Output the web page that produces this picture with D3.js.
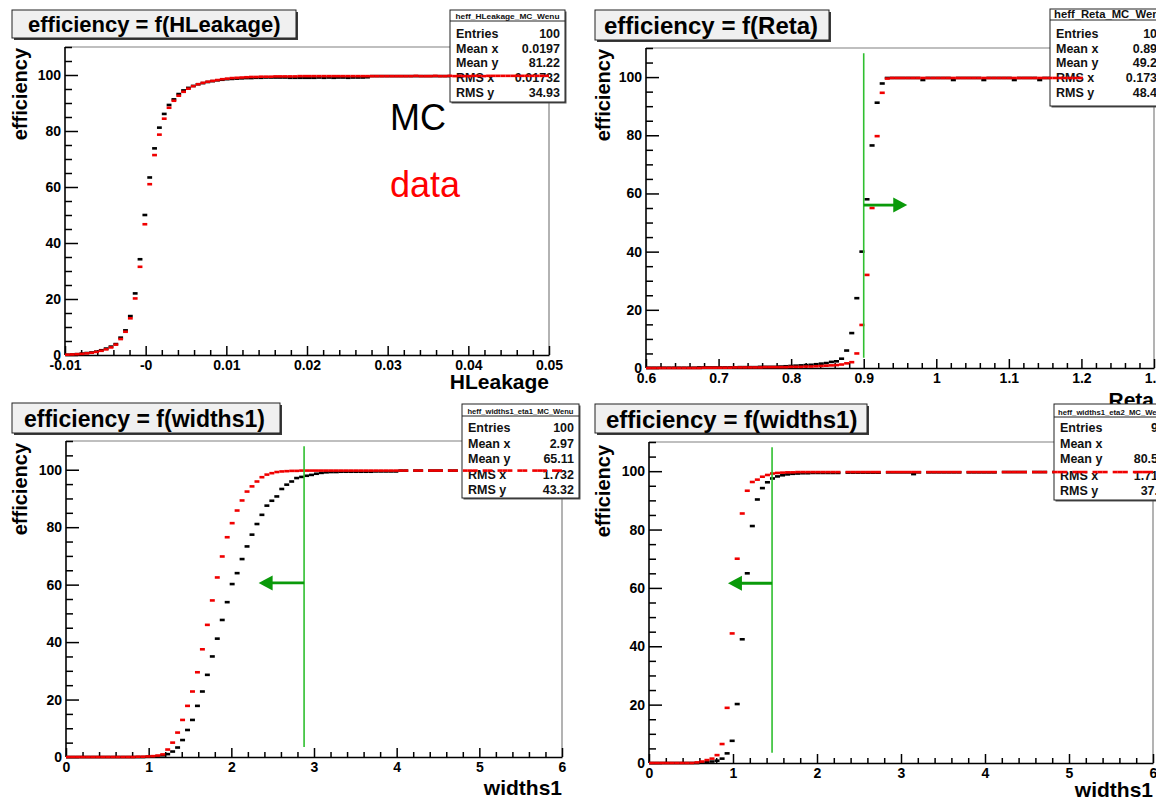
<!DOCTYPE html>
<html><head><meta charset="utf-8">
<script src="https://cdn.jsdelivr.net/npm/d3@7"></script>
<style>body{margin:0;background:#fff} svg{display:block} text{font-family:"Liberation Sans",Arial,Helvetica,sans-serif}</style>
</head><body><svg id="c" width="1156" height="803"></svg>
<script>
// ---------------- data (100 bins per histogram) ----------------
const hleakMC = [0.1,0.2,0.3,0.5,0.7,0.9,1.2,1.7,2.3,3.0,
 3.9,6.2,8.8,13.9,22.0,34.2,50.0,63.4,73.8,81.2,
 86.1,89.3,91.3,93.2,94.5,95.4,96.1,96.7,97.1,97.5,
 97.8,98.1,98.3,98.5,98.6,98.7,98.8,98.9,98.9,99.0,
 99.0,99.1,99.1,99.1,99.1,99.1,99.0,99.0,99.0,99.0,
 99.0,99.0,99.1,99.0,99.1,99.0,99.1,99.1,99.0,99.1,
 99.1,99.1,99.2,99.6,99.6,99.6,99.6,99.6,99.6,99.6,
 99.6,99.6,99.6,99.6,99.6,99.6,99.6,99.6,99.6,99.6,
 99.7,99.6,99.6,99.7,99.6,99.7,99.6,99.7,99.7,99.6,
 99.7,99.7,99.6,99.7,99.7,99.7,99.7,99.7,99.7,99.7];
const hleakData = [0.1,0.2,0.3,0.4,0.6,0.8,1.1,1.5,2.0,2.7,
 3.7,5.7,8.3,13.1,20.2,31.5,46.7,61.0,71.4,78.7,
 84.4,88.3,90.8,92.6,94.0,95.1,96.0,96.7,97.2,97.6,
 97.9,98.2,98.5,98.7,98.9,99.0,99.1,99.2,99.3,99.3,
 99.4,99.4,99.4,99.5,99.5,99.5,99.5,99.5,99.6,99.6,
 99.6,99.6,99.6,99.6,99.6,99.6,99.6,99.6,99.6,99.6,
 99.6,99.6,99.6,99.6,99.6,99.6,99.6,99.6,99.6,99.6,
 99.6,99.6,99.7,99.6,99.6,99.6,99.7,99.6,99.6,99.7,
 99.6,99.7,99.6,99.6,99.7,99.7,99.6,99.7,99.7,99.7,
 99.7,99.7,99.7,99.7,99.7,99.7,99.7,99.7,99.7,99.7];

const retaMC = [0.1,0.1,0.1,0.1,0.1,0.1,0.1,0.1,0.1,0.1,
 0.2,0.2,0.2,0.2,0.2,0.2,0.2,0.2,0.3,0.3,
 0.3,0.3,0.4,0.4,0.4,0.4,0.5,0.6,0.7,0.8,
 0.9,1.0,1.1,1.3,1.5,1.7,2.1,2.3,3.2,6.0,
 12.0,24.0,40.0,58.0,76.5,91.2,97.8,99.7,99.7,99.7,
 99.7,99.7,99.7,99.7,99.0,99.7,99.7,99.7,99.7,99.7,
 99.0,99.7,99.7,99.7,99.7,99.7,99.0,99.7,99.7,99.7,
 99.7,99.7,99.0,99.7,99.7,99.7,99.7,99.0,99.7,99.7,
 99.7,99.7,99.7,99.7,99.7,99.7,null,null,null,null,
 null,null,null,null,null,null,null,null,null,null];
const retaData = [0.0,0.0,0.0,0.0,0.0,0.0,0.0,0.0,0.0,0.0,
 0.0,0.1,0.1,0.1,0.1,0.1,0.1,0.2,0.2,0.2,
 0.2,0.2,0.2,0.3,0.3,0.3,0.3,0.3,0.4,0.4,
 0.4,0.5,0.5,0.6,0.7,0.8,0.9,1.0,1.2,1.6,
 2.0,5.0,14.8,32.0,55.0,79.7,94.6,99.5,99.7,99.7,
 99.7,99.7,99.7,99.7,99.7,99.7,99.7,99.7,99.7,99.7,
 99.7,99.7,99.7,99.7,99.7,99.7,99.7,99.7,99.7,99.7,
 99.7,99.7,99.7,99.7,99.7,99.7,99.7,99.7,99.7,99.7,
 99.7,99.7,99.7,99.7,99.7,99.7,null,null,null,null,
 null,null,null,null,null,null,null,null,null,null];

const widthsEta1MC = [0,0,0,0,0,0,0,0,0,0,
 0,0,0,0,0,0,0.1,0.2,0.3,0.6,
 1.0,1.9,3.3,5.9,9.4,12.9,17.8,22.8,28.6,35.0,
 41.2,47.7,53.9,60.2,64.0,68.9,73.3,77.4,81.1,84.3,
 87.5,89.2,90.7,93.3,94.8,95.9,97.1,97.5,97.9,98.2,
 98.6,98.9,99.1,99.2,99.2,99.3,99.3,99.3,99.3,99.3,
 99.3,99.3,99.4,99.4,99.4,99.4,99.4,99.7,99.7,null,
 99.7,99.7,null,99.7,99.7,99.7,null,99.7,99.7,null,
 99.7,99.7,99.7,null,99.7,99.7,null,99.7,99.7,99.7,
 null,99.7,99.7,null,99.7,99.7,99.7,null,99.7,99.7];
const widthsEta1Data = [0,0,0,0,0,0,0,0,0,0,
 0,0,0,0,0.1,0.1,0.2,0.3,0.5,0.9,
 2.6,5.0,8.5,12.9,17.8,22.8,29.5,37.5,46.0,54.5,
 62.5,69.8,76.5,81.4,85.8,89.3,92.4,94.2,95.9,97.4,
 98.3,98.8,99.2,99.4,99.5,99.6,99.6,99.7,99.7,99.7,
 99.7,99.7,99.7,99.7,99.7,99.7,99.7,99.7,99.7,99.7,
 99.7,99.7,99.7,99.7,99.7,99.7,99.7,99.7,99.7,null,
 99.7,99.7,null,99.7,99.7,99.7,null,99.7,99.7,null,
 99.7,99.7,99.7,null,99.7,99.7,null,99.7,99.7,99.7,
 null,99.7,99.7,null,99.7,99.7,99.7,null,99.7,99.7];

const widthsEta2MC = [0,0,0,0,0,0,0,0,0,0,
 0.1,0.3,0.5,0.8,1.5,3.3,7.6,20.2,42.4,65.0,
 81.2,90.3,94.2,96.2,97.5,98.2,98.6,98.9,99.1,99.2,
 99.3,99.3,99.4,99.4,99.4,99.4,99.4,99.4,null,99.5,
 99.5,99.5,99.5,99.5,99.5,99.5,null,99.6,99.6,99.6,
 99.6,99.6,99.0,99.6,null,99.6,99.6,99.6,99.6,99.6,
 99.6,99.6,null,99.6,99.6,99.6,99.6,99.6,99.6,null,
 99.7,99.7,99.7,99.7,99.7,null,99.7,99.7,99.7,null,
 99.7,99.7,99.7,null,99.7,99.7,99.7,null,99.7,99.7,
 99.7,null,99.7,99.7,99.7,null,99.7,99.7,99.7,99.7];
const widthsEta2Data = [0,0,0,0,0,0,0,0,0,0.2,
 0.5,1.0,1.5,2.7,6.5,18.9,44.4,70.0,85.5,93.3,
 96.3,97.1,98.1,98.7,99.2,99.4,99.5,99.6,99.6,99.7,
 99.7,99.7,99.7,99.7,99.7,99.7,99.7,99.7,null,99.7,
 99.7,99.7,99.7,99.7,99.7,99.7,null,99.7,99.7,99.7,
 99.7,99.7,99.7,99.7,null,99.7,99.7,99.7,99.7,99.7,
 99.7,99.7,null,99.7,99.7,99.7,99.7,99.7,99.7,null,
 99.7,99.7,99.7,99.7,99.7,null,99.7,99.7,99.7,null,
 99.7,99.7,99.7,null,99.7,99.7,99.7,null,99.7,99.7,
 99.7,null,99.7,99.7,99.7,null,99.7,99.7,99.7,99.7];

// tick values and labels
const yTicks = [0,20,40,60,80,100];
const hleakTicks = [-0.01,0,0.01,0.02,0.03,0.04,0.05];
const hleakTickLabels = ["-0.01","-0","0.01","0.02","0.03","0.04","0.05"];
const retaTicks = [0.6,0.7,0.8,0.9,1.0,1.1,1.2,1.3];
const retaTickLabels = ["0.6","0.7","0.8","0.9","1","1.1","1.2","1.3"];
const widthsTicks = [0,1,2,3,4,5,6];
const widthsTickLabels = ["0","1","2","3","4","5","6"];

// stats boxes
const statNames = ["Entries","Mean x","Mean y","RMS x","RMS y"];
const hleakStats = ["100","0.0197","81.22","0.01732","34.93"];
const retaStats = ["100","0.895","49.27","0.1734","48.43"];
const widthsEta1Stats = ["100","2.97","65.11","1.732","43.32"];
const widthsEta2Stats = ["98","3","80.54","1.712","37.1"];

// cut lines: [cut value, arrow tip value, arrow height]
const retaCut = [0.9, 0.96, 56];
const widthsEta1Cut = [2.88, 2.33, 60.6];
const widthsEta2Cut = [1.465, 0.94, 61.6];

// ---------------- drawing ----------------
const svg = d3.select("#c");
const FONT = '"Liberation Sans",Arial,Helvetica,sans-serif';

const panels = [
 {mc:hleakMC, data:hleakData, xDomain:[-0.01,0.05], ticks:hleakTicks, tickLabels:hleakTickLabels, minorStep:0.002,
  left:65,right:549,top:47,bottom:355, xTitle:"HLeakage", xlab:[549,389], ylab:[27,48],
  title:{text:"efficiency = f(HLeakage)", x0:12,y0:10,x1:296,y1:38,size:22,tx:28,ty:32},
  stats:{name:"heff_HLeakage_MC_Wenu", vals:hleakStats, x0:450,y0:10,x1:565,y1:102,hy:21,hsize:8,hlen:104, rows:[38,53,67,82,97], lx:456, vx:560},
  cut:null},
 {mc:retaMC, data:retaData, xDomain:[0.6,1.3], ticks:retaTicks, tickLabels:retaTickLabels, minorStep:0.02,
  left:646,right:1154,top:48,bottom:368, xTitle:"Reta", xlab:[1154,407], ylab:[610,49],
  title:{text:"efficiency = f(Reta)", x0:595,y0:10,x1:829,y1:40,size:24,tx:604,ty:34},
  stats:{name:"heff_Reta_MC_Wenu", vals:retaStats, x0:1050,y0:9,x1:1170,y1:106,hy:20,hsize:10,hlen:112, rows:[38,53,67,82,97], lx:1056, vx:1164},
  cut:retaCut},
 {mc:widthsEta1MC, data:widthsEta1Data, xDomain:[0,6], ticks:widthsTicks, tickLabels:widthsTickLabels, minorStep:0.2,
  left:66,right:562,top:441,bottom:757, xTitle:"widths1", xlab:[562,795], ylab:[27,443],
  title:{text:"efficiency = f(widths1)", x0:12,y0:403,x1:280,y1:433,size:23,tx:24,ty:427},
  stats:{name:"heff_widths1_eta1_MC_Wenu", vals:widthsEta1Stats, x0:462,y0:404,x1:579,y1:498,hy:416,hsize:7,hlen:106, rows:[432,448,463,479,494], lx:468, vx:574},
  cut:widthsEta1Cut},
 {mc:widthsEta2MC, data:widthsEta2Data, xDomain:[0,6], ticks:widthsTicks, tickLabels:widthsTickLabels, minorStep:0.2,
  left:649,right:1153,top:442,bottom:763, xTitle:"widths1", xlab:[1153,797], ylab:[610,445],
  title:{text:"efficiency = f(widths1)", x0:595,y0:404,x1:867,y1:433,size:24,tx:606,ty:428},
  stats:{name:"heff_widths1_eta2_MC_Wenu", vals:widthsEta2Stats, x0:1054,y0:404,x1:1170,y1:500,hy:417,hsize:7,hlen:108, rows:[432,448,463,480,495], lx:1060, vx:1165},
  cut:widthsEta2Cut}
];

function drawBins(g, arr, x, y, x0, w, color){
  const bins = arr.map((v,i)=>({v, a:x0+i*w, b:x0+(i+1)*w})).filter(d=>d.v!==null);
  g.selectAll(null).data(bins).enter().append("line")
    .attr("x1",d=>x(d.a)).attr("x2",d=>x(d.b))
    .attr("y1",d=>y(d.v)).attr("y2",d=>y(d.v))
    .attr("stroke",color).attr("stroke-width",2.6);
}

function drawPanel(p){
  const g = svg.append("g");
  const x = d3.scaleLinear().domain(p.xDomain).range([p.left,p.right]);
  const y = d3.scaleLinear().domain([0,110]).range([p.bottom,p.top]);
  // frame (top/right)
  g.append("line").attr("x1",p.left).attr("x2",p.right).attr("y1",p.top).attr("y2",p.top).attr("stroke","#808080").attr("stroke-width",1.2);
  g.append("line").attr("x1",p.right).attr("x2",p.right).attr("y1",p.top).attr("y2",p.bottom).attr("stroke","#808080").attr("stroke-width",1.2);

  // minor ticks
  const yMinor = d3.range(0,23).map(k=>k*5).filter(v=>v%20!==0);
  const nMinor = Math.round((p.xDomain[1]-p.xDomain[0])/p.minorStep);
  const xMinor = d3.range(0,nMinor+1).map(k=>p.xDomain[0]+k*p.minorStep)
      .filter(v=>!p.ticks.some(t=>Math.abs(t-v)<p.minorStep/4));
  g.append("g").attr("transform",`translate(${p.left},0)`)
    .call(d3.axisLeft(y).tickValues(yMinor).tickSize(-7).tickFormat("").tickSizeOuter(0))
    .call(s=>s.select(".domain").remove());
  g.append("g").attr("transform",`translate(0,${p.bottom})`)
    .call(d3.axisBottom(x).tickValues(xMinor).tickSize(-5).tickFormat("").tickSizeOuter(0))
    .call(s=>s.select(".domain").remove());
  // major axes
  const ya = g.append("g").attr("transform",`translate(${p.left},0)`)
    .call(d3.axisLeft(y).tickValues(yTicks).tickSize(-13).tickPadding(4).tickSizeOuter(0));
  ya.select(".domain").attr("d",`M0,${p.bottom}V${p.top}`);
  const xa = g.append("g").attr("transform",`translate(0,${p.bottom})`)
    .call(d3.axisBottom(x).tickValues(p.ticks).tickSize(-9).tickPadding(5).tickSizeOuter(0)
      .tickFormat((d,i)=>p.tickLabels[i]));
  [ya,xa].forEach(a=>{
    a.select(".domain").attr("stroke","#000").attr("stroke-width",1.6);
    a.selectAll(".tick line").attr("stroke","#000").attr("stroke-width",1.5);
    a.selectAll(".tick text").attr("fill","#000").attr("font-size",14).attr("font-weight","bold").attr("font-family",FONT);
  });
  g.selectAll(".tick line").attr("stroke","#000").attr("stroke-width",1.5);

  const nb = p.mc.length;
  const w = (p.xDomain[1]-p.xDomain[0])/nb;
  // MC (black) first
  drawBins(g, p.mc, x, y, p.xDomain[0], w, "#000");

  // axis titles
  g.append("text").attr("x",p.xlab[0]).attr("y",p.xlab[1]).attr("text-anchor","end")
    .attr("font-size",21).attr("font-weight","bold").attr("fill","#000").text(p.xTitle);
  g.append("text").attr("transform",`translate(${p.ylab[0]},${p.ylab[1]}) rotate(-90)`).attr("text-anchor","end")
    .attr("font-size",20).attr("font-weight","bold").attr("fill","#000").text("efficiency");

  // title box
  const t = p.title;
  g.append("rect").attr("x",t.x0+2).attr("y",t.y0+2).attr("width",t.x1-t.x0).attr("height",t.y1-t.y0).attr("fill","#3a3a3a");
  g.append("rect").attr("x",t.x0).attr("y",t.y0).attr("width",t.x1-t.x0).attr("height",t.y1-t.y0)
    .attr("fill","#f0f0f0").attr("stroke","#222").attr("stroke-width",1);
  g.append("text").attr("x",t.tx).attr("y",t.ty).attr("font-size",t.size).attr("font-weight","bold").attr("fill","#000").text(t.text);

  // stats box
  const s = p.stats;
  g.append("rect").attr("x",s.x0+1.5).attr("y",s.y0+1.5).attr("width",s.x1-s.x0).attr("height",s.y1-s.y0).attr("fill","#555");
  g.append("rect").attr("x",s.x0).attr("y",s.y0).attr("width",s.x1-s.x0).attr("height",s.y1-s.y0)
    .attr("fill","#fff").attr("stroke","#222").attr("stroke-width",1);
  g.append("line").attr("x1",s.x0).attr("x2",s.x1).attr("y1",s.hy).attr("y2",s.hy).attr("stroke","#222").attr("stroke-width",1);
  g.append("text").attr("x",(s.x0+s.x1)/2).attr("y",s.hy-2.5).attr("text-anchor","middle")
    .attr("font-size",s.hsize).attr("font-weight","bold").attr("fill","#111")
    .attr("textLength",s.hlen).attr("lengthAdjust","spacingAndGlyphs").text(s.name);
  statNames.forEach((nm,i)=>{
    g.append("text").attr("x",s.lx).attr("y",s.rows[i]).attr("font-size",12.5).attr("font-weight","bold").attr("fill","#111").text(nm);
    g.append("text").attr("x",s.vx).attr("y",s.rows[i]).attr("text-anchor","end").attr("font-size",12.5).attr("font-weight","bold").attr("fill","#111").text(s.vals[i]);
  });

  // data (red) on top
  drawBins(g, p.data, x, y, p.xDomain[0], w, "#f00000");

  // cut line and arrow
  if (p.cut){
    const [cv, tip, ah] = p.cut;
    g.append("line").attr("x1",x(cv)).attr("x2",x(cv)).attr("y1",y(108.2)).attr("y2",y(3.5))
      .attr("stroke","#2fbf2f").attr("stroke-width",1.6);
    const dir = tip > cv ? 1 : -1;
    const xt = x(tip), yy = y(ah), hl = 14;
    g.append("line").attr("x1",x(cv)).attr("x2",xt - dir*hl+dir*1).attr("y1",yy).attr("y2",yy)
      .attr("stroke","#0a9a0a").attr("stroke-width",2.8);
    g.append("path").attr("d",`M${xt},${yy}L${xt-dir*hl},${yy-7.5}L${xt-dir*hl},${yy+7.5}Z`).attr("fill","#0a9a0a");
  }
  return {x,y};
}

panels.forEach(drawPanel);

// legend words in first panel
svg.append("text").attr("x",390).attr("y",130).attr("font-size",36).attr("fill","#000").attr("font-family",FONT).text("MC");
svg.append("text").attr("x",390).attr("y",197).attr("font-size",36).attr("fill","#ff0000").attr("font-family",FONT).text("data");
</script></body></html>
